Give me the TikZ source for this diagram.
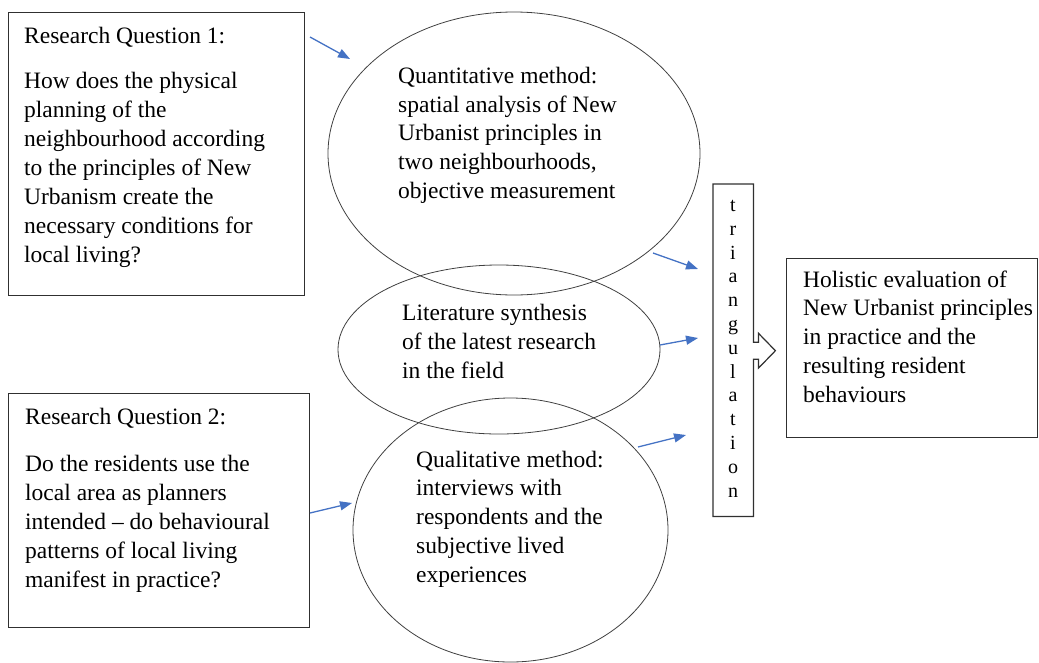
\documentclass[tikz,border=0pt]{standalone}
\usepackage{fontspec}
\setmainfont{Liberation Serif}
\usetikzlibrary{arrows.meta,shapes.geometric,calc}
\definecolor{arrowblue}{HTML}{4472C4}
\definecolor{linegray}{HTML}{303030}
\definecolor{ovalgray}{HTML}{404040}
\begin{document}
\begin{tikzpicture}[x=1pt,y=-1pt,
  box/.style={draw=linegray, line width=1.2pt, rectangle, inner sep=0pt, anchor=north west},
  oval/.style={draw=ovalgray, line width=0.8pt, ellipse, inner sep=0pt},
  txt/.style={font=\fontsize{23.5}{29}\selectfont, align=left, inner sep=0pt, anchor=base west},
  conn/.style={draw=arrowblue, line width=1.3pt, -{Triangle[length=12pt,width=9pt]}},
]
\useasboundingbox (0,0) rectangle (1039,662);

% boxes
\node[box, minimum width=296pt, minimum height=283pt] (rq1) at (8,12) {};
\node[box, minimum width=301pt, minimum height=234pt] (rq2) at (8,393) {};
\node[box, minimum width=251pt, minimum height=179pt] (hol) at (786,258) {};

% ellipses
\node[oval, minimum width=372pt, minimum height=283pt] (quant) at (514,153.5) {};
\node[oval, minimum width=322pt, minimum height=169pt] (lit) at (499,349.5) {};
\node[oval, minimum width=315pt, minimum height=264pt] (qual) at (510.5,530) {};

% texts (anchored at the baseline of their last line)
\node[txt] (rq1t) at (24,262) {Research Question 1:\\[16pt]How does the physical\\planning of the\\neighbourhood according\\to the principles of New\\Urbanism create the\\necessary conditions for\\local living?};
\node[txt] (rq2t) at (25,587) {Research Question 2:\\[18pt]Do the residents use the\\local area as planners\\intended -- do behavioural\\patterns of local living\\manifest in practice?};
\node[txt, font=\fontsize{23.5}{28.6}\selectfont] (quantt) at (398,198) {Quantitative method:\\spatial analysis of New\\Urbanist principles in\\two neighbourhoods,\\objective measurement};
\node[txt] (litt) at (402,378) {Literature synthesis\\of the latest research\\in the field};
\node[txt, font=\fontsize{23.5}{28.7}\selectfont] (qualt) at (416,582) {Qualitative method:\\interviews with\\respondents and the\\subjective lived\\experiences};
\node[txt, font=\fontsize{23.5}{28.75}\selectfont] (holt) at (803,402) {Holistic evaluation of\\New Urbanist principles\\in practice and the\\resulting resident\\behaviours};

% triangulation
\node[inner sep=0pt, minimum width=40pt, minimum height=332pt, anchor=north west] (tri) at (713,184) {};
\node[font=\fontsize{20}{23.8}\selectfont, align=center, inner sep=0pt, anchor=base] (tril) at (733,497) {t\\r\\i\\a\\n\\g\\u\\l\\a\\t\\i\\o\\n};
\draw[linegray, line width=1.2pt, line join=miter]
  (tri.north west) -- (tri.north east) -- ($(tri.east)+(0,-8)$) -- ($(tri.east)+(5,-8)$)
  -- ($(tri.east)+(5,-17)$) -- ($(tri.east)+(22,0.5)$) -- ($(tri.east)+(5,18)$)
  -- ($(tri.east)+(5,9)$) -- ($(tri.east)+(0,9)$) -- (tri.south east) -- (tri.south west) -- cycle;

% blue connectors
\coordinate (a1s) at (310,37);   \coordinate (a1e) at (350,59);
\coordinate (a2s) at (653,253);  \coordinate (a2e) at (698,269);
\coordinate (a3s) at (660,345);  \coordinate (a3e) at (698,338);
\coordinate (a4s) at (638,447);  \coordinate (a4e) at (686,435);
\coordinate (a5s) at (310,513);  \coordinate (a5e) at (352,503);
\draw[conn] (a1s) -- (a1e);
\draw[conn] (a2s) -- (a2e);
\draw[conn] (a3s) -- (a3e);
\draw[conn] (a4s) -- (a4e);
\draw[conn] (a5s) -- (a5e);
\end{tikzpicture}
\end{document}
